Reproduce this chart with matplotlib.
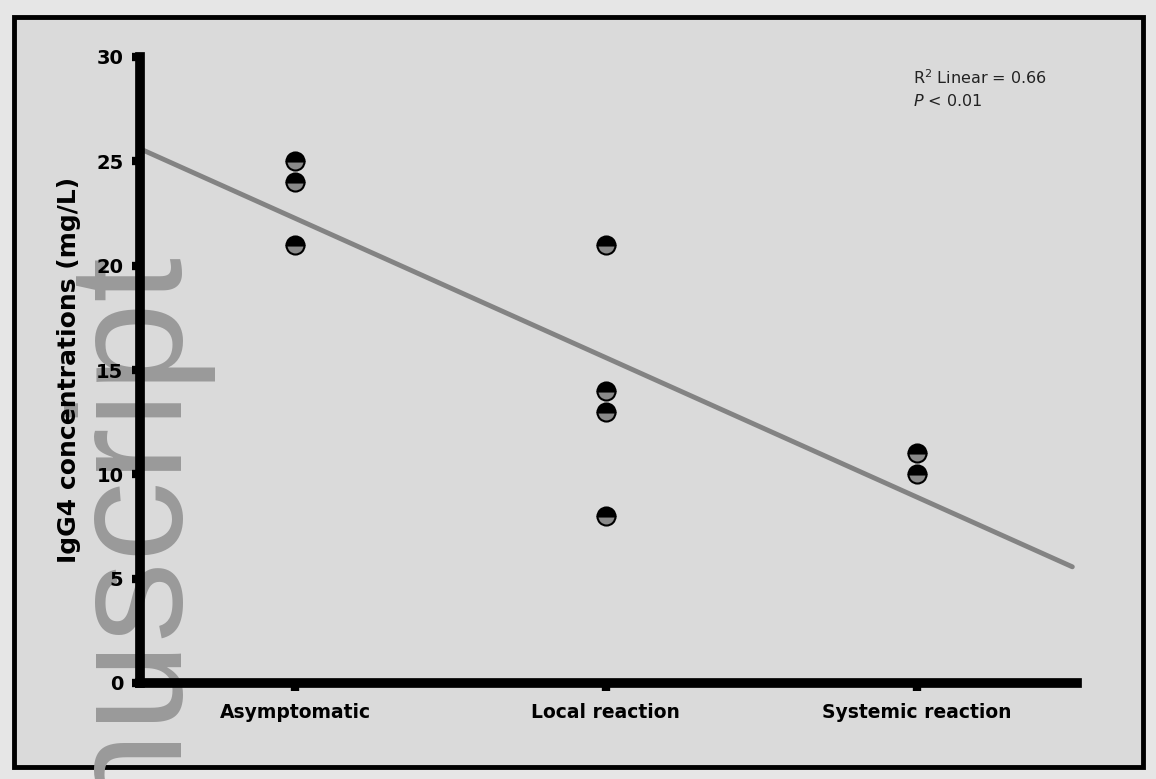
import matplotlib.pyplot as plt
import matplotlib.patches as patches
import numpy as np

# groups and IgG4 values
groups = ['Asymptomatic', 'Local reaction', 'Systemic reaction']
asymptomatic = [25, 24, 21]
local_reaction = [21, 14, 13, 8]
systemic_reaction = [11, 10]
y_ticks = [0, 5, 10, 15, 20, 25, 30]

values = [asymptomatic, local_reaction, systemic_reaction]
xs = np.concatenate([[i + 1] * len(v) for i, v in enumerate(values)])
ys = np.concatenate(values)

# linear fit over all points
slope, intercept = np.polyfit(xs, ys, 1)
r2 = np.corrcoef(xs, ys)[0, 1] ** 2

fig = plt.figure(figsize=(11.56, 7.79), dpi=100, facecolor='#e6e6e6')

# outer frame
frame = patches.Rectangle((0.0121, 0.0154), 0.9767, 0.9628, transform=fig.transFigure,
                          facecolor='#dadada', edgecolor='black', linewidth=3.5, zorder=-2)
fig.patches.append(frame)

# watermark
fig.text(169 / 1156, 1 - 243 / 779, 'Manuscript', rotation=90, rotation_mode='anchor',
         ha='right', va='baseline', fontsize=116, family='Liberation Sans',
         color='#9a9a9a', zorder=-1)

ax = fig.add_axes([139.5 / 1156, 1 - 683 / 779, (1077 - 139.5) / 1156, (683 - 57) / 779])
ax.patch.set_alpha(0)

# regression line
lx = np.array([0.5, 3.5])
ax.plot(lx, intercept + slope * lx, color='#838383', linewidth=3.5, zorder=2,
        solid_capstyle='round')

# half-filled markers
ax.plot(xs, ys, linestyle='none', marker='o', markersize=13, fillstyle='top',
        markerfacecolor='black', markerfacecoloralt='#8a8a8a',
        markeredgecolor='black', markeredgewidth=1.5, zorder=3)

ax.set_xlim(0.5, 3.515)
ax.set_ylim(0, 30)
ax.set_xticks([1, 2, 3])
ax.set_xticklabels(groups)
ax.set_yticks(y_ticks)

for side in ['top', 'right']:
    ax.spines[side].set_visible(False)
for side in ['left', 'bottom']:
    ax.spines[side].set_linewidth(7)
    ax.spines[side].set_color('black')

ax.tick_params(axis='both', direction='out', length=5.5, width=6, color='black')
ax.tick_params(axis='y', pad=6, labelsize=14)
ax.tick_params(axis='x', pad=9, labelsize=13.5)
for lab in ax.get_xticklabels() + ax.get_yticklabels():
    lab.set_fontweight('bold')

ax.set_ylabel('IgG4 concentrations (mg/L)', fontsize=18, fontweight='bold')
ax.yaxis.set_label_coords(-0.062, 0.5)

ax.text(913 / 1156, 1 - 78 / 779, r'R$^2$ Linear = %.2f' % r2, transform=fig.transFigure,
        fontsize=11.5, color='#222222', ha='left', va='center')
ax.text(913 / 1156, 1 - 101 / 779, r'$P$ < 0.01', transform=fig.transFigure,
        fontsize=11.5, color='#222222', ha='left', va='center')

plt.savefig('out.png', dpi=100, facecolor=fig.get_facecolor())
